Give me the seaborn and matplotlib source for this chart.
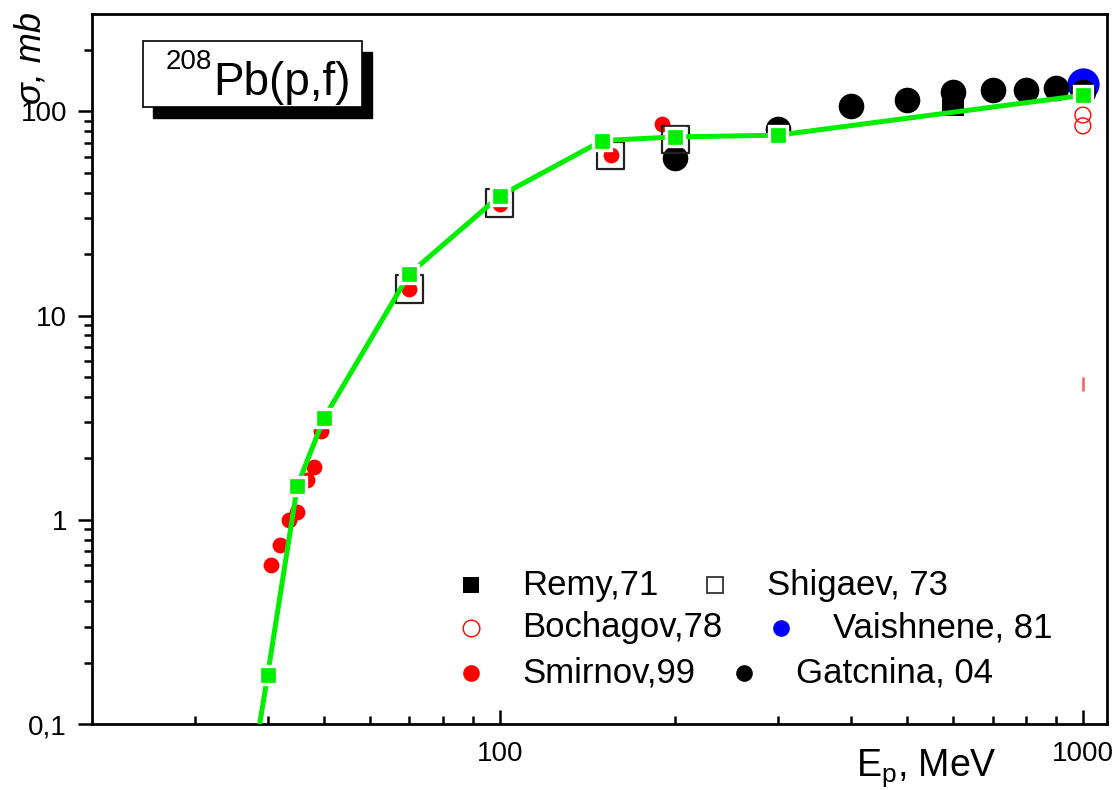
import matplotlib

matplotlib.use("Agg")
import matplotlib.pyplot as plt
import seaborn as sns
from matplotlib.patches import Rectangle
from matplotlib.ticker import FixedLocator, NullFormatter

# data (energy in MeV, cross section in mb)
model_e = [38, 40, 45, 50, 70, 100, 150, 200, 300, 1000]
model_sigma = [0.07, 0.173, 1.47, 3.15, 16.0, 38.5, 72, 75, 76.5, 120]

remy_e = [600]
remy_sigma = [108]

shigaev_e = [70, 100, 155, 200]
shigaev_sigma = [13.5, 35.6, 61, 73]

bochagov_e = [1000, 1000]
bochagov_sigma = [96, 85]

vaishnene_e = [1000]
vaishnene_sigma = [137]

smirnov_e = [40.6, 42, 43.6, 45, 46.8, 48, 49.3, 70, 100, 155, 190, 200]
smirnov_sigma = [0.60, 0.75, 1.0, 1.09, 1.57, 1.81, 2.72, 13.5, 35.2, 61, 86.4, 74]

gatchina_e = [200, 300, 400, 500, 600, 700, 800, 900, 1000]
gatchina_sigma = [59, 82, 106, 114, 124, 127, 127, 130, 124]

stray_e = [1000]
stray_sigma = [4.6]

legend_labels = ["Remy,71", "Shigaev, 73", "Bochagov,78", "Vaishnene, 81",
                 "Smirnov,99", "Gatcnina, 04"]

W, H = 1120, 790
AX_L, AX_R, AX_T, AX_B = 92, 1107, 14, 724


def px(x, y):
    """pixel position in the picture -> axes fraction"""
    return (x - AX_L) / (AX_R - AX_L), (AX_B - y) / (AX_B - AX_T)


sns.set_theme(style="ticks")
plt.rcParams["font.family"] = ["Liberation Sans", "DejaVu Sans"]
for key in ("text.color", "axes.labelcolor", "xtick.color", "ytick.color",
            "axes.edgecolor"):
    plt.rcParams[key] = "black"

fig = plt.figure(figsize=(W / 100, H / 100), dpi=100)
ax = fig.add_axes([AX_L / W, 1 - AX_B / H, (AX_R - AX_L) / W, (AX_B - AX_T) / H])

sns.scatterplot(x=smirnov_e, y=smirnov_sigma, ax=ax, color="#ff0000", s=130,
                linewidth=0, zorder=3)
sns.scatterplot(x=vaishnene_e, y=vaishnene_sigma, ax=ax, color="#0000ff", s=540,
                linewidth=0, zorder=2)
sns.scatterplot(x=remy_e, y=remy_sigma, ax=ax, color="black", marker="s", s=230,
                linewidth=0, zorder=3)
sns.scatterplot(x=gatchina_e, y=gatchina_sigma, ax=ax, color="black", s=340,
                linewidth=0, zorder=4)
ax.scatter(shigaev_e, shigaev_sigma, marker="s", s=380, facecolors="none",
           edgecolors="#222222", linewidths=1.6, zorder=5)
ax.scatter(bochagov_e, bochagov_sigma, marker="o", s=130, facecolors="none",
           edgecolors="#ff0000", linewidths=1.0, zorder=5)
ax.scatter(stray_e, stray_sigma, marker="|", s=90, color="#ff3030", alpha=0.8,
           linewidths=1.8, zorder=5)
sns.lineplot(x=model_e, y=model_sigma, ax=ax, sort=False, estimator=None,
             color="#00ee00", linewidth=3.6, marker="s", markersize=13,
             markeredgecolor="white", markeredgewidth=2.4, zorder=10)

ax.set_xscale("log")
ax.set_yscale("log")
ax.set_xlim(20, 1100)
ax.set_ylim(0.1, 300)

ax.xaxis.set_major_locator(FixedLocator([100, 1000]))
ax.set_xticklabels(["100", "1000"])
ax.xaxis.set_minor_locator(FixedLocator([30, 40, 50, 60, 70, 80, 90,
                                         200, 300, 400, 500, 600, 700, 800, 900]))
ax.xaxis.set_minor_formatter(NullFormatter())
ax.yaxis.set_major_locator(FixedLocator([0.1, 1, 10, 100]))
ax.set_yticklabels(["0,1", "1", "10", "100"])
ax.yaxis.set_minor_locator(FixedLocator([k * 10.0 ** d for d in (-1, 0, 1, 2)
                                         for k in range(2, 10)
                                         if k * 10.0 ** d < 300]))
ax.yaxis.set_minor_formatter(NullFormatter())

ax.tick_params(axis="x", which="both", direction="in", labelsize=20, pad=12,
               width=1.8, color="black", labelcolor="black")
ax.tick_params(axis="y", which="both", direction="out", labelsize=20, pad=8,
               width=1.8, color="black", labelcolor="black")
ax.tick_params(which="major", length=10)
ax.tick_params(which="minor", length=5.5)
for sp in ax.spines.values():
    sp.set_linewidth(2)
    sp.set_color("black")
ax.set_xlabel("")
ax.set_ylabel("")

# axis titles
ax.text(*px(856, 776), "E$_\\mathregular{p}$, MeV", transform=ax.transAxes,
        fontsize=27, ha="left", va="baseline", clip_on=False, color="black")
ax.text(*px(31, 58), "σ, mb", transform=ax.transAxes, fontsize=26,
        style="italic", rotation=90, ha="center", va="center", clip_on=False,
        color="black")

# reaction label with drop shadow
bx0, by0 = px(143, 107)
bx1, by1 = px(362, 41)
sx, sy = px(153, 118)
ax.add_patch(Rectangle((sx, sy), bx1 - bx0, by1 - by0, transform=ax.transAxes,
                       facecolor="black", edgecolor="black", zorder=20))
ax.add_patch(Rectangle((bx0, by0), bx1 - bx0, by1 - by0, transform=ax.transAxes,
                       facecolor="white", edgecolor="black", linewidth=1.2, zorder=21))
ax.text(*px(213, 95), "Pb(p,f)", transform=ax.transAxes, fontsize=33,
        ha="left", va="baseline", zorder=22, color="black")
ax.text(*px(212, 69), "208", transform=ax.transAxes, fontsize=20,
        ha="right", va="baseline", zorder=22, color="black")

# legend, laid out like the original
legend_items = [
    (471, 585, 522, dict(marker="s", color="black", markersize=11)),
    (715, 585, 767, dict(marker="s", markerfacecolor="none", markeredgecolor="#222222",
                         markeredgewidth=1.2, markersize=11)),
    (471, 628, 522, dict(marker="o", markerfacecolor="none", markeredgecolor="#ff0000",
                         markeredgewidth=1.0, markersize=12)),
    (781, 628, 833, dict(marker="o", color="#0000ff", markersize=12)),
    (471, 673, 522, dict(marker="o", color="#ff0000", markersize=12)),
    (744, 673, 796, dict(marker="o", color="black", markersize=12)),
]
for (mx, my, tx, style), label in zip(legend_items, legend_labels):
    ax.plot(*[[v] for v in px(mx, my)], transform=ax.transAxes, linestyle="none",
            markeredgewidth=style.pop("markeredgewidth", 0), **style)
    ax.text(*px(tx, my), label, transform=ax.transAxes, fontsize=25,
            ha="left", va="center", color="black")

fig.savefig("out.png", dpi=100)
